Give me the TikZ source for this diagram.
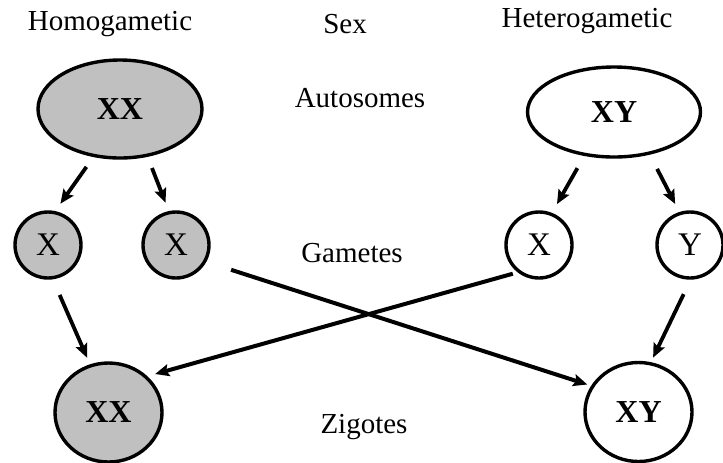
\documentclass[tikz,border=0pt]{standalone}
\usepackage{fontspec}
\setmainfont{Liberation Serif}
\usetikzlibrary{arrows.meta, shapes.geometric}
\definecolor{chrom}{RGB}{192,192,192}

\begin{document}
\begin{tikzpicture}[x=0.5pt, y=-0.5pt, font=\fontsize{14.5}{17}\selectfont]
\tikzstyle{par}=[ellipse, draw=black, line width=1.7pt, inner sep=0pt, font=\fontsize{16}{19}\selectfont\bfseries]
\tikzstyle{gam}=[circle, draw=black, line width=1.7pt, minimum size=33pt, inner sep=0pt, font=\fontsize{16.5}{19}\selectfont]
\tikzstyle{zyg}=[ellipse, draw=black, line width=1.7pt, minimum width=53.5pt, minimum height=49.5pt, inner sep=0pt, font=\fontsize{16}{19}\selectfont\bfseries]
\tikzstyle{connect}=[-{Stealth[length=7pt, width=6pt, inset=1.2pt]}, line width=1.9pt]
\useasboundingbox (0,0) rectangle (723,462);

% headings and row labels
\node[anchor=base] (homo) at (110,30) {Homogametic};
\node[anchor=base] (sex) at (345,33) {Sex};
\node[anchor=base] (hetero) at (587,27) {Heterogametic};
\node[anchor=base] (auto) at (360,107) {Autosomes};
\node[anchor=base] (gamt) at (352,262) {Gametes};
\node[anchor=base] (zigt) at (364,433) {Zigotes};

% parents
\node[par, fill=chrom, minimum width=82pt, minimum height=49pt] (hxx) at (120,109) {XX};
\node[par, fill=white, minimum width=86.5pt, minimum height=45pt] (rxy) at (614,112) {XY};

% gametes
\node[gam, fill=chrom] (hx1) at (48,245) {X};
\node[gam, fill=chrom] (hx2) at (176,245) {X};
\node[gam, fill=white] (rx1) at (539,245) {X};
\node[gam, fill=white] (ry) at (690,245) {Y};

% zygotes
\node[zyg, fill=chrom] (hzz) at (108.5,412.5) {XX};
\node[zyg, fill=white] (rzy) at (638.5,412) {XY};

\draw[connect, shorten <=6pt, shorten >=4.5pt] (hxx.241) -- (hx1.78);
\draw[connect, shorten <=6pt, shorten >=4.5pt] (hxx.300) -- (hx2.102);
\draw[connect, shorten <=7pt, shorten >=5pt] (rxy.236) -- (rx1.68);
\draw[connect, shorten <=8pt, shorten >=4.5pt] (rxy.310) -- (ry.108);
\draw[connect, shorten <=8.5pt, shorten >=3.5pt] (hx1.278) -- (hzz.111);
\draw[connect, shorten <=8pt, shorten >=2.5pt] (ry.271) -- (rzy.76);
\draw[connect, line width=2pt, shorten <=13pt, shorten >=2pt] (hx2.331) -- (rzy.151);
\draw[connect, line width=2pt, shorten <=2.5pt, shorten >=4pt] (rx1.232) -- (hzz.43);
\end{tikzpicture}
\end{document}
